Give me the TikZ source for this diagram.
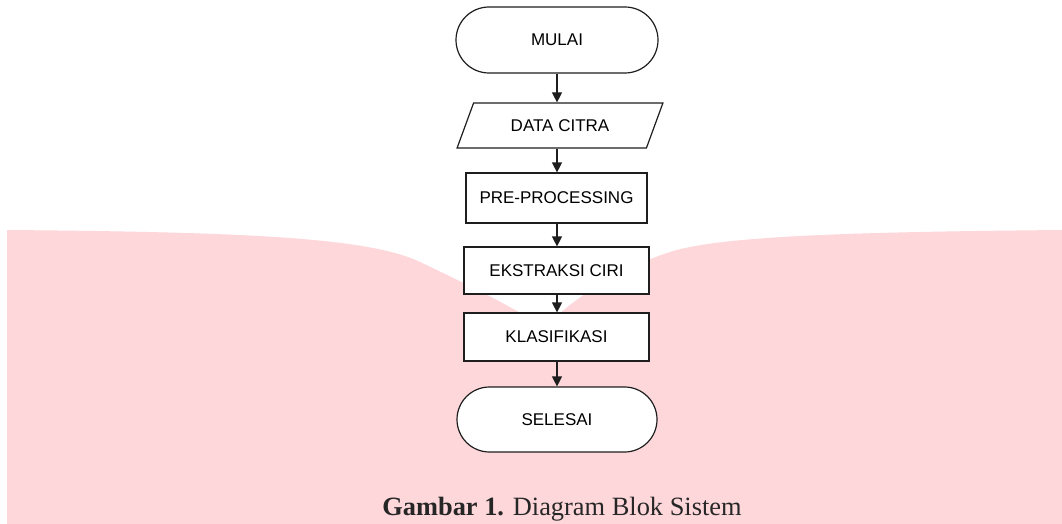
\documentclass[tikz,border=0pt]{standalone}
\usepackage{fontspec}
\setmainfont{Liberation Serif}
\newfontfamily\arial{Liberation Sans}
\usetikzlibrary{shapes.geometric,shapes.misc,arrows.meta}
\definecolor{wmpink}{RGB}{254,215,219}
\definecolor{garis}{RGB}{30,30,30}
\tikzset{
	kotak/.style={draw=garis,line width=1.2pt,fill=white,inner sep=0pt,
		font=\arial\fontsize{17}{20}\selectfont},
	terminal/.style={kotak,rounded rectangle,minimum width=202pt,minimum height=66pt},
	proses/.style={kotak,rectangle,minimum width=185pt,minimum height=48pt},
	data/.style={kotak,trapezium,trapezium left angle=52,trapezium right angle=128,
		trapezium stretches=true,minimum width=206pt,minimum height=45pt},
	alir/.style={->,draw=garis,line width=1.2pt}
}

\begin{document}
\begin{tikzpicture}[x=1pt,y=-1pt,>={Triangle[length=10pt,width=10pt]}]
\useasboundingbox (0,0) rectangle (1062,524);
\fill[white] (0,0) rectangle (1062,524);
% latar merah muda
\fill[wmpink] (7,524) -- (7,230) .. controls (250,232) and (370,238) .. (420,262)
	.. controls (460,281) and (510,305) .. (545,328)
	.. controls (570,300) and (620,268) .. (670,252)
	.. controls (720,236) and (850,232) .. (1062,230) -- (1062,524) -- cycle;

\node[terminal] (mulai)   at (557,40)    {MULAI};
\node[data]     (citra)   at (560,125.5) {DATA CITRA};
\node[proses,minimum width=181pt,minimum height=50pt]
	            (prepro)  at (556.5,198) {PRE-PROCESSING};
\node[proses,minimum height=47pt]
	            (ciri)    at (556.5,270.5) {EKSTRAKSI CIRI};
\node[proses]   (klas)    at (556.5,337) {KLASIFIKASI};
\node[terminal,minimum width=200pt,minimum height=65pt]
	            (selesai) at (557,419.5) {SELESAI};

\draw[alir] (mulai.south) -- (mulai.south |- citra.north);
\draw[alir] (mulai.south |- citra.south) -- (mulai.south |- prepro.north);
\draw[alir] (mulai.south |- prepro.south) -- (mulai.south |- ciri.north);
\draw[alir] (mulai.south |- ciri.south) -- (mulai.south |- klas.north);
\draw[alir] (mulai.south |- klas.south) -- (selesai.north);

\node[anchor=base,text=black!85,font=\fontsize{26.4}{30}\selectfont] (judul) at (562,515)
	{\textbf{Gambar 1.} Diagram Blok Sistem};
\end{tikzpicture}
\end{document}
